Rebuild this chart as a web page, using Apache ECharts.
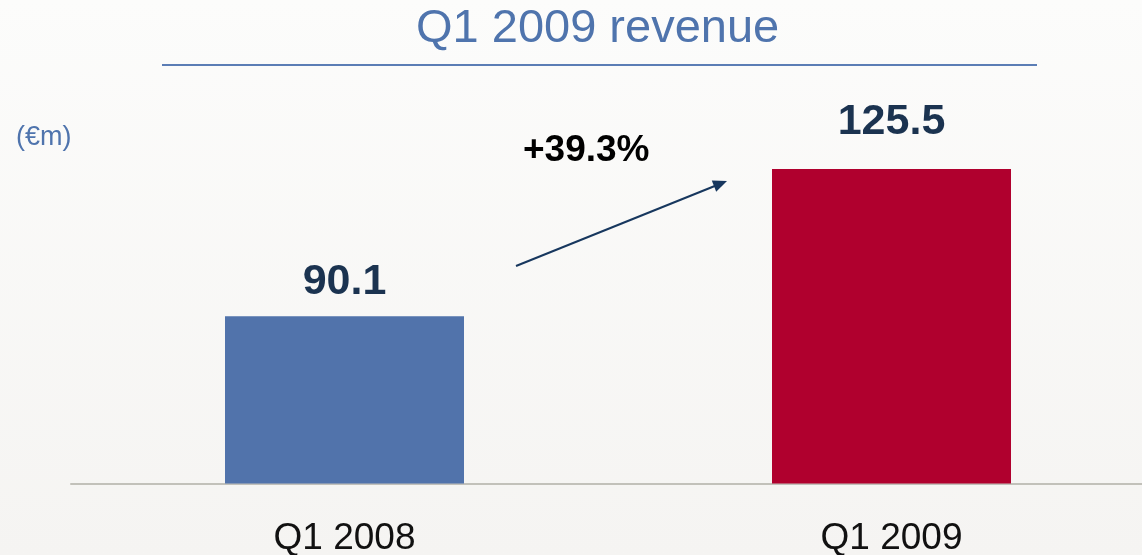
<!DOCTYPE html>
<html><head><meta charset="utf-8">
<script src="https://cdn.jsdelivr.net/npm/echarts@6/dist/echarts.min.js"></script>
<style>html,body{margin:0;padding:0;}#c{width:1142px;height:555px;}</style>
</head><body><div id="c"></div>
<script>
const categories = ['Q1 2008', 'Q1 2009'];
const revenue = [90.1, 125.5];
const barColors = ['#5173ab', '#b0002e'];
const growthLabel = '+39.3%';
const titleText = 'Q1 2009 revenue';
const unitText = '(€m)';

const chart = echarts.init(document.getElementById('c'));
const FONT = '"Liberation Sans", Arial, sans-serif';
chart.setOption({
  animation: false,
  backgroundColor: new echarts.graphic.LinearGradient(0, 0, 0, 1, [
    {offset: 0, color: '#fcfcfb'}, {offset: 1, color: '#f5f4f2'}
  ]),
  title: [
    {text: titleText, left: 411, top: 1,
     textStyle: {fontFamily: FONT, fontSize: 47, fontWeight: 'normal', color: '#4f74ad'}},
    {text: unitText, left: 11, top: 119,
     textStyle: {fontFamily: FONT, fontSize: 27, fontWeight: 'normal', color: '#4f74ad'}}
  ],
  grid: {left: 71, top: 100.6, right: -23, bottom: 71.5, containLabel: false, outerBoundsMode: 'none'},
  xAxis: {
    type: 'category', data: categories,
    axisLine: {show: true, lineStyle: {color: '#c2c1ba', width: 2}},
    axisTick: {show: false},
    axisLabel: {fontFamily: FONT, fontSize: 37, color: '#111111', margin: 37}
  },
  yAxis: {type: 'value', min: 49.8, max: 142, show: false, splitLine: {show: false}},
  series: [{
    type: 'bar', barWidth: 239,
    data: revenue.map((v, i) => ({
      value: v,
      itemStyle: {color: barColors[i]},
      label: {distance: i === 0 ? 12 : 25}
    })),
    label: {show: true, position: 'top', fontFamily: FONT, fontSize: 43, fontWeight: 'bold', color: '#1b3350'}
  }],
  graphic: [
    {type: 'line', shape: {x1: 162, y1: 65, x2: 1037, y2: 65}, style: {stroke: '#5b7db5', lineWidth: 2}},
    {type: 'line', shape: {x1: 516, y1: 266, x2: 716, y2: 185.5}, style: {stroke: '#17375e', lineWidth: 2}},
    {type: 'polygon', shape: {points: [[727, 181], [716.2, 191.8], [711.8, 180.6]]}, style: {fill: '#17375e'}},
    {type: 'text', left: 523, top: 132, style: {text: growthLabel, font: 'bold 37px ' + FONT, fill: '#000000'}}
  ]
});
</script></body></html>
